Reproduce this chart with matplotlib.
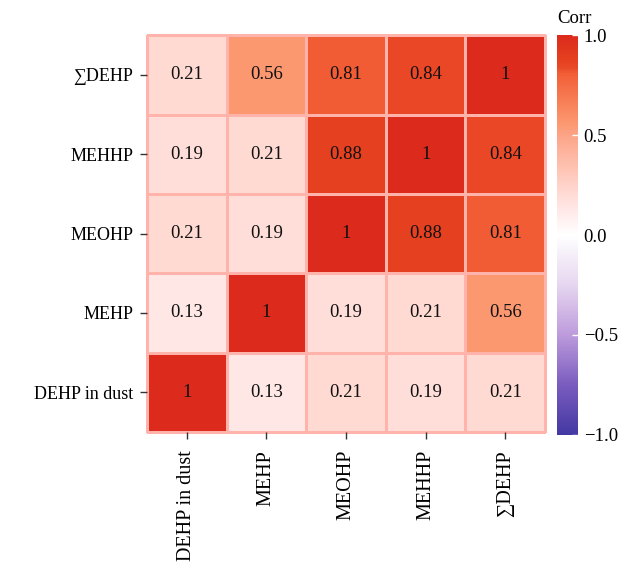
import numpy as np
import matplotlib
matplotlib.use("Agg")
import matplotlib.pyplot as plt
from matplotlib.colors import LinearSegmentedColormap, to_rgb

plt.rcParams["font.family"] = ["Liberation Serif", "DejaVu Serif"]

labels = ["DEHP in dust", "MEHP", "MEOHP", "MEHHP", "\u2211DEHP"]
corr = np.array([
    [1.00, 0.13, 0.21, 0.19, 0.21],
    [0.13, 1.00, 0.19, 0.21, 0.56],
    [0.21, 0.19, 1.00, 0.88, 0.81],
    [0.19, 0.21, 0.88, 1.00, 0.84],
    [0.21, 0.56, 0.81, 0.84, 1.00],
])
cell_text = ["1", "0.13", "0.21", "0.19", "0.21",
             "0.13", "1", "0.19", "0.21", "0.56",
             "0.21", "0.19", "1", "0.88", "0.81",
             "0.19", "0.21", "0.88", "1", "0.84",
             "0.21", "0.56", "0.81", "0.84", "1"]

# colour stops (value -> colour)
pos_vals = [0.0, 0.13, 0.21, 0.5, 0.56, 0.81, 0.84, 0.88, 1.0]
pos_cols = ["#ffffff", "#ffe7e6", "#ffdad3", "#fca487", "#fc9870",
            "#f25e36", "#e94827", "#e5401f", "#dc2a1c"]
neg_vals = [-1.0, -0.75, -0.5, -0.25, 0.0]
neg_cols = ["#4338a3", "#7a5cbf", "#bd9bdc", "#e6d6f0", "#ffffff"]

stops = [((v + 1) / 2, to_rgb(c)) for v, c in zip(neg_vals, neg_cols)]
stops += [((v + 1) / 2, to_rgb(c)) for v, c in zip(pos_vals[1:], pos_cols[1:])]
cmap = LinearSegmentedColormap.from_list("corr", stops, N=512)

fs = 13.5
fig = plt.figure(figsize=(6.25, 5.67), dpi=100)
ax = fig.add_axes([0.2352, 0.238, 0.6368, 0.700])
mesh = ax.pcolormesh(corr, cmap=cmap, vmin=-1, vmax=1,
                     edgecolors="#ffb3aa", linewidth=0.9)
mesh.set_clip_on(False)
for i in range(5):
    for j in range(5):
        ax.text(j + 0.5, i + 0.5, cell_text[i * 5 + j], ha="center", va="center",
                fontsize=fs, color="#111111")

ax.set_xticks(np.arange(5) + 0.5)
ax.set_yticks(np.arange(5) + 0.5)
ax.set_xticklabels(labels, rotation=90, fontsize=14.5)
ax.set_yticklabels(labels, fontsize=13)
ax.tick_params(length=5, width=1, color="#333333")
ax.tick_params(axis="x", pad=8)
ax.tick_params(axis="y", pad=5)
for s in ax.spines.values():
    s.set_visible(False)
ax.set_xlim(0, 5)
ax.set_ylim(0, 5)

cax = fig.add_axes([0.891, 0.233, 0.034, 0.705])
cb = fig.colorbar(mesh, cax=cax, ticks=[-1, -0.5, 0, 0.5, 1])
cb.ax.set_yticklabels(["\u22121.0", "\u22120.5", "0.0", "0.5", "1.0"], fontsize=fs)
cb.ax.tick_params(length=4, width=1, color="white", direction="in", pad=4)
cb.outline.set_visible(False)
cax.text(0.0, 1.02, "Corr", transform=cax.transAxes, fontsize=fs, ha="left", va="bottom")

fig.savefig("out.png", dpi=100)
